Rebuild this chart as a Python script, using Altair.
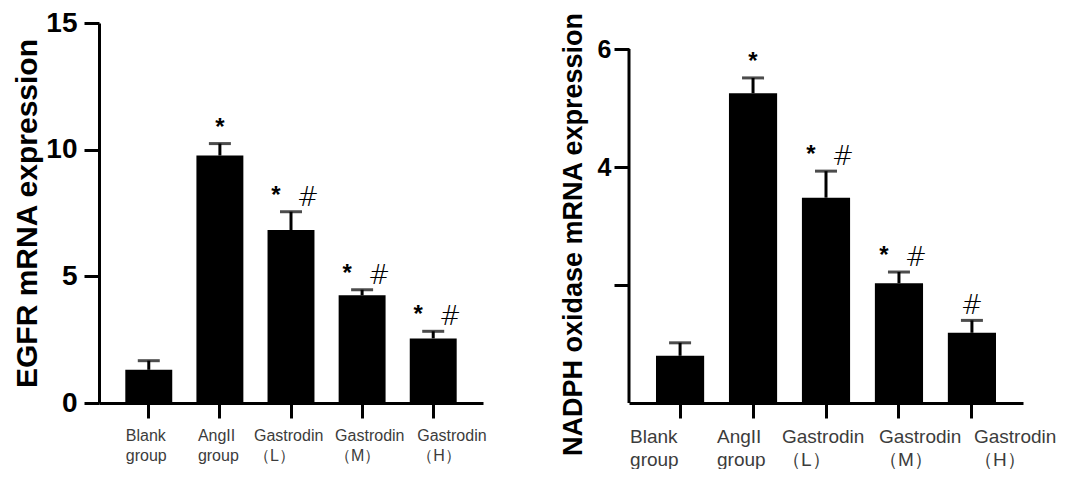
import altair as alt
import pandas as pd

groups = ["Blank group", "AngII group", "Gastrodin （L）", "Gastrodin （M）", "Gastrodin （H）"]

egfr_mean = [1.31, 9.77, 6.83, 4.25, 2.55]
egfr_err = [0.36, 0.47, 0.72, 0.22, 0.28]
egfr_star = [False, True, True, True, True]
egfr_hash = [False, False, True, True, True]

nadph_mean = [0.80, 5.25, 3.48, 2.03, 1.19]
nadph_err = [0.22, 0.26, 0.45, 0.19, 0.21]
nadph_star = [False, True, True, True, False]
nadph_hash = [False, False, True, True, True]

FONT = "Liberation Sans"


def panel(mean, err, star, hsh, width, ymax, yvals, ytitle, title_size, tick_label_size,
          x_label_size, title_pad, label_pad, hide_values, manual_top, title_y, label_nudge):
    df = pd.DataFrame({
        "group": groups,
        "mean": mean,
        "top": [m + e for m, e in zip(mean, err)],
        "star": star,
        "hash": hsh,
    })
    base = alt.Chart(df)
    xscale = alt.Scale(paddingInner=0.34, paddingOuter=0.37)
    offset_cond = {
        "condition": [
            {"test": "datum.value == '%s'" % g, "value": n}
            for g, n in zip(groups, label_nudge)
        ],
        "value": 0,
    }
    x_axis = alt.Axis(
        title=None, labelAngle=0, labelFont=FONT, labelFontSize=x_label_size,
        labelColor="#3c3c3c", labelExpr="split(datum.label, ' ')",
        labelLineHeight=x_label_size + 4, labelAlign="left", labelOffset=offset_cond,
        labelOverlap=False, labelBound=False,
        labelPadding=9, tickSize=15, tickWidth=3, tickColor="black",
        domainColor="black", domainWidth=3, labelBaseline="top",
    )
    label_expr = "datum.label"
    if hide_values:
        label_expr = "(" + " || ".join("datum.value == %s" % v for v in hide_values) + ") ? '' : datum.label"
    axis_kw = dict(
        title=ytitle, titleFont=FONT, titleFontSize=title_size, titleFontWeight="bold",
        titleColor="black", titlePadding=title_pad,
        values=yvals, labelExpr=label_expr, labelFont=FONT, labelFontSize=tick_label_size,
        labelFontWeight="bold", labelColor="black", labelPadding=label_pad,
        tickSize=15, tickWidth=3, tickColor="black", grid=False,
        domain=manual_top is None, domainColor="black", domainWidth=3,
    )
    if title_y is not None:
        axis_kw["titleY"] = title_y
    y_axis = alt.Axis(**axis_kw)
    yscale = alt.Scale(domain=[0, ymax], nice=False, zero=True)

    x_enc = alt.X("group:N", sort=groups, scale=xscale, axis=x_axis)

    def y_enc(field):
        return alt.Y(field, scale=yscale, axis=y_axis)

    bars = base.mark_bar(color="black").encode(x=x_enc, y=y_enc("mean:Q"))
    stem = base.mark_rule(color="black", strokeWidth=3).encode(
        x=x_enc, y=y_enc("mean:Q"), y2="top:Q",
    )
    cap = base.mark_tick(color="black", thickness=3, size=22, orient="horizontal").encode(
        x=x_enc, y=y_enc("top:Q"),
    )

    def ann(text, cond, dx, dy, font, size, weight):
        return base.transform_filter(cond).mark_text(
            text=text, font=font, fontSize=size, fontWeight=weight, color="black",
            dx=dx, dy=dy, baseline="alphabetic", align="center",
        ).encode(x=x_enc, y=y_enc("top:Q"))

    star_alone = ann("*", "datum.star && !datum.hash", 0, -9, FONT, 24, "bold")
    star_pair = ann("*", "datum.star && datum.hash", -15, -9, FONT, 24, "bold")
    hash_pair = ann("#", "datum.star && datum.hash", 17, -6, "DejaVu Sans", 26, 200)
    hash_alone = ann("#", "!datum.star && datum.hash", 0, -6, "DejaVu Sans", 26, 200)

    layers = [bars, stem, cap, star_alone, star_pair, hash_pair, hash_alone]
    if manual_top is not None:
        dom = pd.DataFrame({"lo": [0], "hi": [manual_top]})
        domain_rule = alt.Chart(dom).mark_rule(color="black", strokeWidth=3).encode(
            x=alt.value(0),
            y=y_enc("lo:Q"),
            y2="hi:Q",
        )
        layers.append(domain_rule)
    return alt.layer(*layers).properties(width=width, height=380)


left = panel(egfr_mean, egfr_err, egfr_star, egfr_hash, 384, 15, [0, 5, 10, 15],
             "EGFR mRNA expression", 30, 28, 16, 3, 7, [], None, None,
             [-23, -22, -37, -27, -16])
right = panel(nadph_mean, nadph_err, nadph_star, nadph_hash, 394, 6 * 380 / 354, [2, 4, 6],
              "NADPH oxidase mRNA expression", 27, 25, 19, 10, 3, [2], 6, 211,
              [-50, -36, -44, -20, 2])

chart = alt.hconcat(left, right, spacing=146, bounds="flush").properties(
    padding={"left": 4, "top": 1, "right": 0, "bottom": 0},
    background="white",
).configure_view(stroke=None)

chart.save("out.html", embed_options={"renderer": "svg", "actions": False})
